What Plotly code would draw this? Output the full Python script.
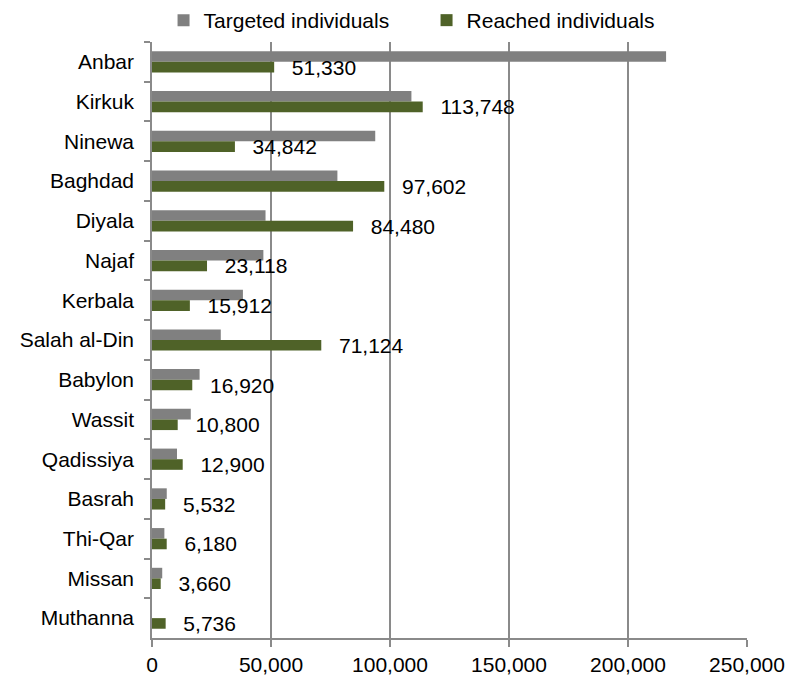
import plotly.graph_objects as go

categories = ["Anbar", "Kirkuk", "Ninewa", "Baghdad", "Diyala", "Najaf", "Kerbala",
              "Salah al-Din", "Babylon", "Wassit", "Qadissiya", "Basrah", "Thi-Qar",
              "Missan", "Muthanna"]
targeted = [216000, 109000, 93800, 77900, 47700, 46800, 38200, 28900, 20000,
            16300, 10500, 6200, 5200, 4300, 0]
reached = [51330, 113748, 34842, 97602, 84480, 23118, 15912, 71124, 16920,
           10800, 12900, 5532, 6180, 3660, 5736]
x_ticks = [0, 50000, 100000, 150000, 200000, 250000]

FONT = "Liberation Sans, Arial, sans-serif"
FS = 21
GRID = "#8a8a8a"

fig = go.Figure()
fig.add_trace(go.Bar(
    y=categories, x=targeted, orientation="h", name="Targeted individuals",
    marker=dict(color="#808080", line=dict(width=0)),
))
fig.add_trace(go.Bar(
    y=categories, x=reached, orientation="h", name="Reached individuals",
    marker=dict(color="#4F6228", line=dict(width=0)),
    text=["\u2002\u2009" + f"{v:,}" for v in reached],
    textposition="outside", constraintext="none", cliponaxis=False,
    textfont=dict(family=FONT, size=FS, color="#000000"),
))

fig.update_layout(
    width=792, height=676,
    margin=dict(l=152, r=45, t=42, b=38, autoexpand=False),
    paper_bgcolor="white", plot_bgcolor="white",
    barmode="group", bargap=0.466, bargroupgap=0,
    font=dict(family=FONT, size=FS, color="#000000"),
    legend=dict(
        orientation="h", xref="container", yref="container",
        x=0.2065, y=1.0, xanchor="left", yanchor="top",
        font=dict(family=FONT, size=FS, color="#000000"),
        entrywidth=218, bgcolor="rgba(0,0,0,0)",
    ),
    xaxis=dict(
        range=[0, 250000], tickvals=x_ticks,
        ticktext=[f"{v:,}" for v in x_ticks],
        showgrid=True, gridcolor=GRID, gridwidth=1.5,
        zeroline=False, showline=True, linecolor=GRID, linewidth=1.5,
        ticks="outside", ticklen=7, tickcolor=GRID, tickwidth=1.5,
        tickfont=dict(family=FONT, size=FS, color="#000000"),
        automargin=False,
    ),
    yaxis=dict(
        autorange="reversed", showgrid=False, zeroline=False,
        showline=True, linecolor=GRID, linewidth=1.5,
        ticks="outside", ticklen=6, tickcolor=GRID, tickwidth=1.5,
        tickson="boundaries", ticklabelstandoff=12,
        tickfont=dict(family=FONT, size=FS, color="#000000"),
        automargin=False,
    ),
)

fig.write_html(
    "out.html",
    config={"displayModeBar": False},
    post_script="document.body.style.margin='0';document.body.style.overflow='hidden';",
)
